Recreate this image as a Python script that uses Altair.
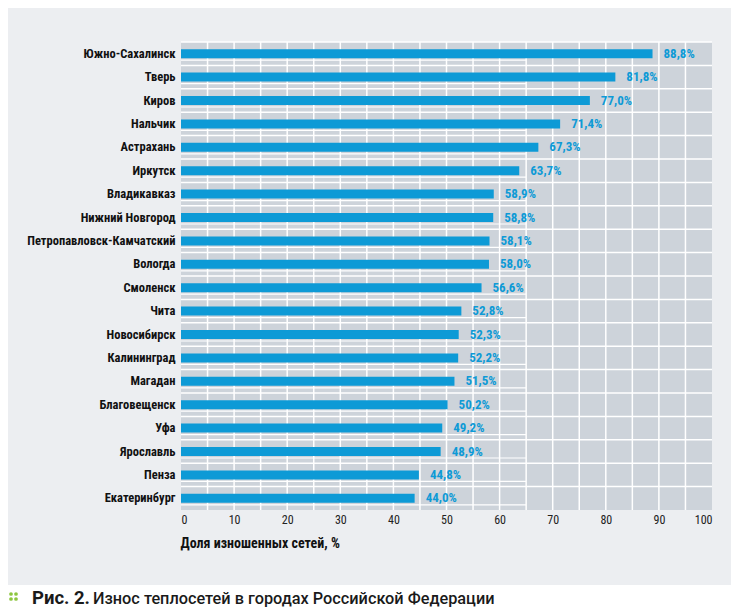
import altair as alt
import pandas as pd

cities = [
    "Южно-Сахалинск", "Тверь", "Киров", "Нальчик", "Астрахань", "Иркутск",
    "Владикавказ", "Нижний Новгород", "Петропавловск-Камчатский", "Вологда",
    "Смоленск", "Чита", "Новосибирск", "Калининград", "Магадан",
    "Благовещенск", "Уфа", "Ярославль", "Пенза", "Екатеринбург",
]
values = [88.8, 81.8, 77.0, 71.4, 67.3, 63.7, 58.9, 58.8, 58.1, 58.0,
          56.6, 52.8, 52.3, 52.2, 51.5, 50.2, 49.2, 48.9, 44.8, 44.0]
tick_values = [0, 10, 20, 30, 40, 50, 60, 70, 80, 90, 100]
grid_values = [5, 10, 15, 20, 25, 30, 35, 40, 45, 50, 55, 60, 65, 70, 75, 80, 85, 90, 95]
axis_title = "Доля изношенных сетей, %"
caption_bold = "Рис. 2."
caption_rest = "Износ теплосетей в городах Российской Федерации"

W, H = 531, 468
ROW = H / len(cities)
BLUE = "#0d9ad6"
FONT = "Roboto Condensed, Open Sans Condensed, sans-serif"
CAP_FONT = "Roboto, sans-serif"

df = pd.DataFrame({"city": cities, "value": values})
df["label"] = [f"{v:.1f}".replace(".", ",") + "%" for v in values]

xscale = alt.Scale(domain=[0, 100], nice=False, zero=True)
yscale = alt.Scale(paddingInner=0, paddingOuter=0)
x_axis = alt.Axis(
    values=tick_values, grid=False, ticks=False, domain=False,
    labelFont=FONT, labelFontSize=12, labelColor="#222", labelPadding=4,
    title=axis_title, titleFont=FONT, titleFontSize=14, titleFontWeight="bold",
    titleColor="#111", titleX=-1, titleY=37, titleAlign="left",
    titleBaseline="alphabetic", zindex=1)
y_axis = alt.Axis(
    title=None, grid=False, ticks=False, domain=False, labelFont=FONT,
    labelFontSize=12.5, labelFontWeight="bold", labelColor="#111",
    labelPadding=6, zindex=1)

one = alt.Data(values=[{}])

panel = alt.Chart(one).mark_rect(color="#eceef1").encode(
    x=alt.value(-173), x2=alt.value(550), y=alt.value(-34), y2=alt.value(543))
plotbg = alt.Chart(one).mark_rect(color="#cdd3da").encode(
    x=alt.value(0), x2=alt.value(W), y=alt.value(0), y2=alt.value(H))

vgrid = alt.Chart(pd.DataFrame({"g": grid_values})).mark_rule(
    color="white", strokeWidth=1.5).encode(
    x=alt.X("g:Q", scale=xscale, axis=x_axis, title=axis_title),
    y=alt.value(0), y2=alt.value(H))

base = alt.Chart(df)
ycat = alt.Y("city:N", scale=yscale, sort=cities, axis=y_axis, title=None)
xval = alt.X("value:Q", scale=xscale, axis=x_axis, title=axis_title)

hgrid = base.mark_rule(color="white", strokeWidth=1.5, yOffset=-ROW / 2).encode(
    y=ycat, x=alt.value(0), x2=alt.value(W))
underline = base.mark_rule(color="white", strokeWidth=1.2, yOffset=6.5).encode(
    y=ycat, x=alt.value(0), x2=alt.value(round(W * 0.65)))

bars = base.mark_bar(color=BLUE, size=9).encode(x=xval, y=ycat)
labels = base.mark_text(align="left", baseline="middle", dx=11, font=FONT,
                        fontWeight="bold", fontSize=13, color=BLUE).encode(
    x=xval, y=ycat, text="label:N")

cap1 = alt.Chart(one).mark_text(align="left", baseline="alphabetic", font=CAP_FONT,
                                fontSize=18.5, fontWeight="bold", color="#1a1a1a").encode(
    x=alt.value(-149), y=alt.value(562), text=alt.value(caption_bold))
cap2 = alt.Chart(one).mark_text(align="left", baseline="alphabetic", font=CAP_FONT,
                                fontSize=16.3, fontWeight=500, color="#1a1a1a").encode(
    x=alt.value(-88), y=alt.value(562), text=alt.value(caption_rest))

dots = []
for dx in (-170, -165):
    for dy in (552, 557):
        dots.append(alt.Chart(one).mark_circle(color="#8dc63f", size=14, opacity=1).encode(
            x=alt.value(dx), y=alt.value(dy)))

chart = alt.layer(panel, plotbg, vgrid, hgrid, underline, bars, labels, cap1, cap2, *dots).properties(
    width=W, height=H,
    autosize=alt.AutoSizeParams(type="none"),
    padding={"left": 173, "top": 34, "right": 26, "bottom": 98},
).configure_view(stroke=None).configure(background="white")

chart.save("out.html", embed_options={"renderer": "svg", "actions": False})
